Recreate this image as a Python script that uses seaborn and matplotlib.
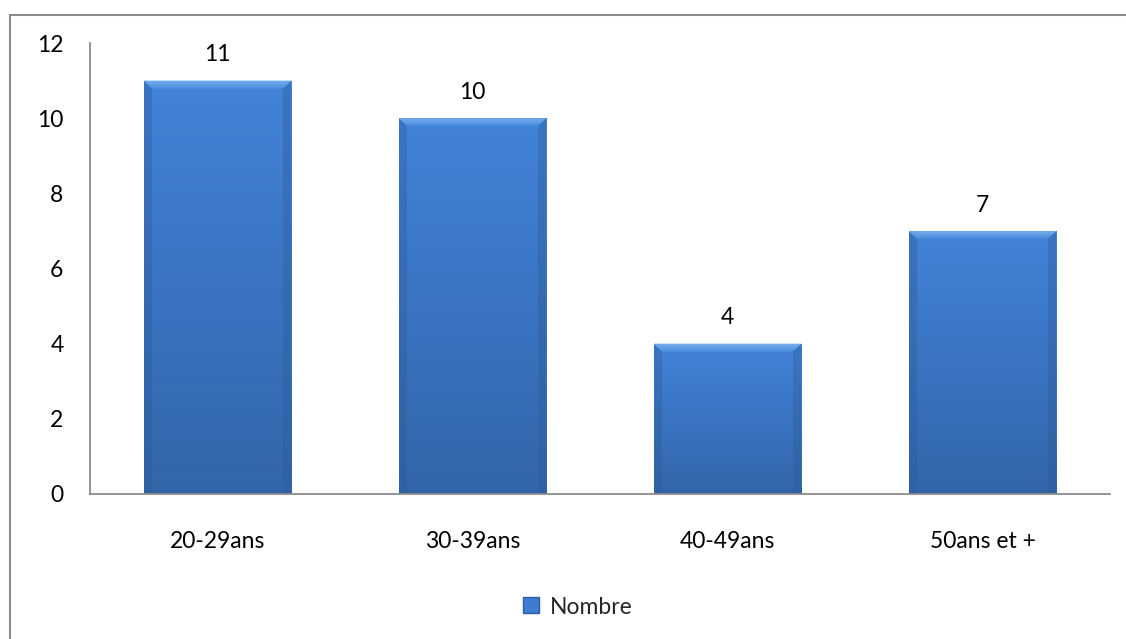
import numpy as np
import pandas as pd
import matplotlib
matplotlib.use("Agg")
import matplotlib.pyplot as plt
import seaborn as sns
from matplotlib.patches import Rectangle, Polygon
from matplotlib.lines import Line2D
from matplotlib.colors import LinearSegmentedColormap

categories = ["20-29ans", "30-39ans", "40-49ans", "50ans et +"]
values = [11, 10, 4, 7]
series_name = "Nombre"
yticks = [0, 2, 4, 6, 8, 10, 12]

sns.set_theme(style="white")
plt.rcParams['font.family'] = ['Lato', 'DejaVu Sans']

W, H = 1126, 639
FS = 16.5
fig = plt.figure(figsize=(W / 100, H / 100), dpi=100)
fig.patch.set_facecolor("white")
ax = fig.add_axes([90 / W, 1 - 494 / H, 1020 / W, (494 - 43) / H])

df = pd.DataFrame({"cat": categories, "val": values})
sns.barplot(data=df, x="cat", y="val", color="#3d7cd0", width=0.58, ax=ax,
            edgecolor="none", saturation=1)

ax.set_xlim(-0.5, 3.5)
ax.set_ylim(0, 12)
ax.set_yticks(yticks)
ax.set_yticklabels([str(t) for t in yticks])
ax.set_xlabel("")
ax.set_ylabel("")
for s in ["top", "right"]:
    ax.spines[s].set_visible(False)
for s in ["left", "bottom"]:
    ax.spines[s].set_color("#8c8c8c")
    ax.spines[s].set_linewidth(1.3)
ax.tick_params(axis="y", length=0, pad=19, labelsize=FS, colors="black")
ax.tick_params(axis="x", length=0, pad=27, labelsize=FS, colors="black")

grad = np.linspace(0, 1, 256).reshape(-1, 1)
cmap = LinearSegmentedColormap.from_list("g", ["#3366a8", "#3a74c2", "#4283d8"])
bev = LinearSegmentedColormap.from_list("b", ["#4a8ade", "#7ab2ee"])
for p, v in zip(list(ax.patches), values):
    x0 = p.get_x()
    w = p.get_width()
    h = p.get_height()
    z = p.get_zorder()
    im = ax.imshow(grad, cmap=cmap, aspect="auto", origin="lower",
                   extent=[x0, x0 + w, 0, h], zorder=z + 0.1)
    im.set_clip_path(p)
    bh = 0.22
    dx = w * 0.06
    for xs in (x0, x0 + w - dx):
        ax.add_patch(Rectangle((xs, 0), dx, h, facecolor="#2c5a96",
                               alpha=0.35, edgecolor="none", zorder=z + 0.2))
    top = Polygon([[x0, h], [x0 + w, h], [x0 + w - dx, h - bh], [x0 + dx, h - bh]],
                  closed=True, facecolor="none", edgecolor="none", zorder=z + 0.3)
    ax.add_patch(top)
    imb = ax.imshow(grad, cmap=bev, aspect="auto", origin="lower",
                    extent=[x0, x0 + w, h - bh, h], zorder=z + 0.3)
    imb.set_clip_path(top)
    ax.annotate(str(v), (x0 + w / 2, h), xytext=(0, 11), textcoords="offset points",
                ha="center", va="bottom", fontsize=FS, color="black")
ax.set_xlim(-0.5, 3.5)
ax.set_ylim(0, 12)

handle = Line2D([], [], marker="s", linestyle="none", markersize=11,
                markerfacecolor="#3d7cd0", markeredgecolor="#2f5f9e")
fig.legend([handle], [series_name], loc="center", bbox_to_anchor=(576 / W, 1 - 607 / H),
           frameon=False, fontsize=FS, handletextpad=0.3, handlelength=1.0)

fig.add_artist(Rectangle((10 / W, -0.05), 1.1, 1 - 15 / H + 0.05, transform=fig.transFigure,
                         fill=False, edgecolor="#8c8c8c", linewidth=1.5))

fig.savefig("out.png", dpi=100, facecolor="white")
